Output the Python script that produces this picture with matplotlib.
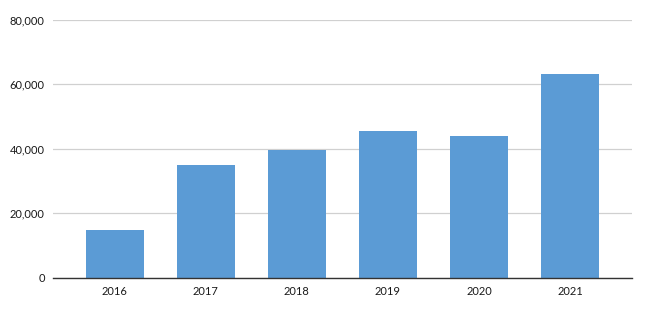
import matplotlib
matplotlib.use("Agg")
import matplotlib.pyplot as plt
from matplotlib.ticker import FuncFormatter

years = ["2016", "2017", "2018", "2019", "2020", "2021"]
values = [14800, 34800, 39700, 45400, 43800, 63200]
yticks = [0, 20000, 40000, 60000, 80000]

plt.rcParams['font.family'] = ['Lato', 'DejaVu Sans']

fig = plt.figure(figsize=(6.49, 3.09), dpi=100)
ax = fig.add_axes([53/649, 31.3/309, (631.7-53)/649, (277.7-19.5)/309])

x = list(range(len(years)))
ax.bar(x, values, width=0.637, color="#5b9bd5", zorder=3)

ax.set_xlim(-0.676, 5.676)
ax.set_ylim(0, 80000)
ax.set_yticks(yticks)
ax.yaxis.set_major_formatter(FuncFormatter(lambda v, p: f"{int(v):,}"))
ax.set_xticks(x)
ax.set_xticklabels(years)

ax.grid(axis="y", color="#d0d0d0", linewidth=0.9, zorder=0)
for s in ["top", "right", "left"]:
    ax.spines[s].set_visible(False)
ax.spines["bottom"].set_color("#333333")
ax.spines["bottom"].set_linewidth(1.0)
ax.spines["bottom"].set_zorder(4)
ax.tick_params(axis="both", length=0, labelsize=8, colors="#1a1a1a")
ax.tick_params(axis="y", pad=6)
ax.tick_params(axis="x", pad=6)

fig.savefig("out.png", dpi=100)
